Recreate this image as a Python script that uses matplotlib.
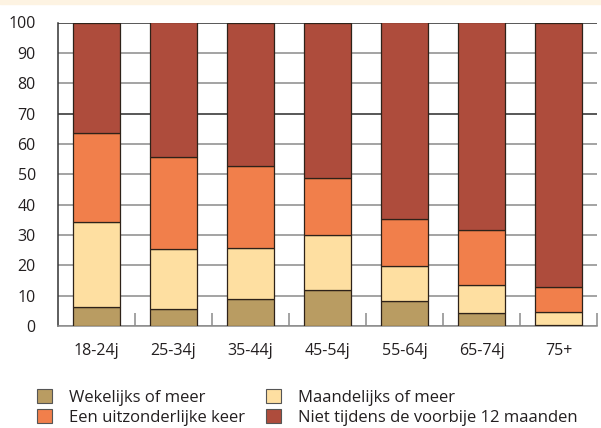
import matplotlib
matplotlib.use("Agg")
import matplotlib.pyplot as plt
from matplotlib.patches import Patch, Rectangle
import numpy as np

plt.rcParams['font.family'] = ['Open Sans', 'DejaVu Sans']

# data (percent)
groups = ['18-24j', '25-34j', '35-44j', '45-54j', '55-64j', '65-74j', '75+']
weekly = [6.2, 5.5, 8.8, 11.8, 8.1, 4.2, 0.2]
monthly = [28.1, 19.8, 16.9, 18.3, 11.8, 9.2, 4.3]
exceptional = [29.2, 30.5, 27.0, 18.8, 15.3, 18.3, 8.3]
never = [36.5, 44.2, 47.3, 51.1, 64.8, 68.3, 87.2]

series = [weekly, monthly, exceptional, never]
labels = ['Wekelijks of meer', 'Maandelijks of meer',
          'Een uitzonderlijke keer', 'Niet tijdens de voorbije 12 maanden']
colors = ['#B99C62', '#FEDFA1', '#F17F4B', '#AE4C3C']
txt = '#231F20'

fig = plt.figure(figsize=(6.01, 4.28), dpi=100)
fig.patches.append(Rectangle((0, 1 - 4/428), 1, 4/428, transform=fig.transFigure,
                             color='#FDF3E2', zorder=0))
ax = fig.add_axes([58/601, 102/428, 539/601, 303.5/428])

x = np.arange(len(groups))
bottom = np.zeros(len(groups))
for vals, c in zip(series, colors):
    ax.bar(x, vals, width=0.6, bottom=bottom, color=c, edgecolor='#2e2219',
           linewidth=0.9, zorder=3)
    bottom += np.array(vals)

ax.set_xlim(-0.5, len(groups) - 0.5)
ax.set_ylim(0, 100)
ax.set_yticks(range(0, 101, 10))
ax.set_xticks(x)
ax.set_xticklabels(groups)
ax.set_xticks(np.arange(0.5, len(groups), 1), minor=True)

ax.yaxis.grid(True, color='#8a8a8a', linewidth=1.1, zorder=1)
for tk, v in zip(ax.yaxis.get_gridlines(), range(0, 101, 10)):
    if v in (70, 100):
        tk.set_color('#2a2a2a')
ax.set_axisbelow(True)

for s in ['top', 'right']:
    ax.spines[s].set_visible(False)
ax.spines['left'].set_color('#333333')
ax.spines['left'].set_linewidth(1.1)
ax.spines['bottom'].set_color('#8a8a8a')
ax.spines['bottom'].set_linewidth(1.1)

ax.tick_params(axis='y', length=0, pad=16, labelsize=11.5, labelcolor=txt)
ax.tick_params(axis='x', which='major', length=0, pad=12, labelsize=11.5, labelcolor=txt)
ax.tick_params(axis='x', which='minor', direction='in', length=9.5, width=1.1,
               color='#8a8a8a')

# legend fills column by column: weekly, exceptional | monthly, never
order = [0, 2, 1, 3]
handles = [Patch(facecolor=colors[i], edgecolor='#555555', linewidth=0.8) for i in order]
fig.legend(handles, [labels[i] for i in order], ncol=2, loc='upper left',
           bbox_to_anchor=(37/601, 1 - 389/428), frameon=False, fontsize=12.0,
           handlelength=0.9, handleheight=0.9, handletextpad=1.0,
           columnspacing=1.3, labelspacing=0.2, borderpad=0, borderaxespad=0,
           labelcolor=txt)

fig.savefig('out.png', dpi=100)
